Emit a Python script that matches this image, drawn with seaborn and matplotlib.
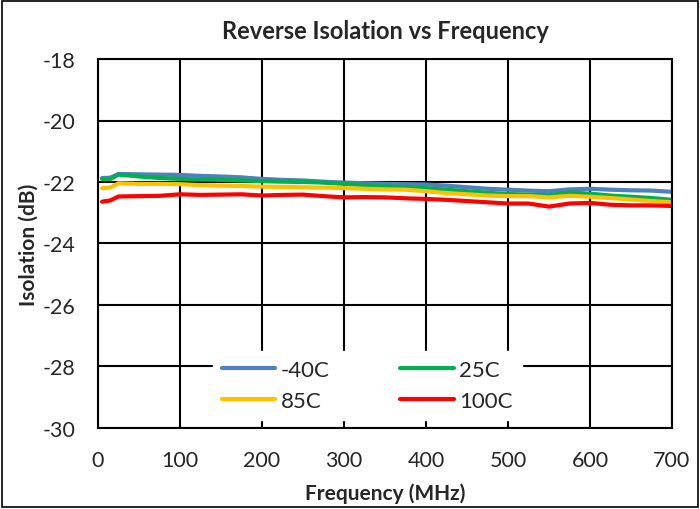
import seaborn as sns
import matplotlib.pyplot as plt
import pandas as pd

# frequency points (MHz) and isolation (dB) per temperature
freq = [5, 15, 25, 50, 75, 100, 125, 150, 175, 200, 225, 250, 275, 300, 325, 350,
        375, 400, 425, 450, 475, 500, 525, 550, 575, 600, 625, 650, 675, 700]
iso_m40 = [-21.87, -21.86, -21.74, -21.75, -21.76, -21.77, -21.80, -21.82, -21.85, -21.90,
           -21.93, -21.95, -21.99, -22.02, -22.04, -22.06, -22.07, -22.08, -22.12, -22.17,
           -22.22, -22.25, -22.28, -22.30, -22.24, -22.22, -22.25, -22.27, -22.28, -22.32]
iso_25 = [-21.90, -21.90, -21.76, -21.82, -21.87, -21.90, -21.92, -21.93, -21.95, -21.97,
          -21.99, -22.00, -22.02, -22.06, -22.10, -22.14, -22.16, -22.20, -22.25, -22.30,
          -22.35, -22.39, -22.41, -22.43, -22.34, -22.38, -22.44, -22.48, -22.52, -22.58]
iso_85 = [-22.20, -22.18, -22.04, -22.06, -22.06, -22.07, -22.10, -22.12, -22.13, -22.15,
          -22.16, -22.17, -22.18, -22.20, -22.22, -22.24, -22.25, -22.30, -22.36, -22.40,
          -22.44, -22.46, -22.46, -22.50, -22.45, -22.48, -22.52, -22.57, -22.62, -22.66]
iso_100 = [-22.64, -22.60, -22.47, -22.46, -22.45, -22.40, -22.42, -22.41, -22.40, -22.44,
           -22.42, -22.41, -22.46, -22.50, -22.49, -22.50, -22.53, -22.55, -22.58, -22.62,
           -22.66, -22.70, -22.70, -22.80, -22.70, -22.68, -22.74, -22.76, -22.76, -22.78]

series = {"-40C": iso_m40, "25C": iso_25, "85C": iso_85, "100C": iso_100}
colors = ["#4f81bd", "#00b050", "#ffc000", "#ff0000"]

df = pd.concat(
    [pd.DataFrame({"freq": freq, "iso": v, "temp": k}) for k, v in series.items()],
    ignore_index=True,
)

sns.set_style("white")
plt.rcParams["font.family"] = ["Lato", "DejaVu Sans"]
plt.rcParams["axes.unicode_minus"] = False

fig = plt.figure(figsize=(7, 5.1), dpi=100)
ax = fig.add_axes([98 / 700, 81 / 510, 574 / 700, 369 / 510])

sns.lineplot(data=df, x="freq", y="iso", hue="temp", palette=colors,
             linewidth=3, ax=ax)

ax.set_xlim(0, 700)
ax.set_ylim(-30, -18)
ax.set_xticks(range(0, 701, 100))
ax.set_yticks(range(-30, -17, 2))
ax.grid(True, color="black", linewidth=1.5)
ax.set_axisbelow(True)
for s in ax.spines.values():
    s.set_color("black")
    s.set_linewidth(1.5)
ax.tick_params(axis="both", labelsize=15.5, length=0)
ax.tick_params(axis="x", pad=16)
ax.tick_params(axis="y", pad=16)
ax.set_xlabel("Frequency (MHz)", fontsize=15, fontweight="bold", labelpad=9)
ax.set_ylabel("Isolation (dB)", fontsize=15, fontweight="bold", labelpad=3)
ax.set_title("Reverse Isolation vs Frequency", fontsize=17, fontweight="bold", pad=15)

# row-wise legend order: -40C, 25C / 85C, 100C
h, l = ax.get_legend_handles_labels()
order = [0, 2, 1, 3]
leg = ax.legend([h[i] for i in order], [l[i] for i in order], ncol=2, loc="center",
                bbox_to_anchor=(0.469, 0.116), frameon=True, fontsize=16,
                handlelength=2.4, columnspacing=3.2, borderpad=0.4,
                labelspacing=0.5, handletextpad=0.25)
leg.get_frame().set_edgecolor("white")
leg.get_frame().set_facecolor("white")
leg.get_frame().set_alpha(1)
leg.get_frame().set_boxstyle("square", pad=0)

# chart border
fig.patches.append(plt.Rectangle((0.003, 0.003), 0.994, 0.994, transform=fig.transFigure,
                                 fill=False, edgecolor="black", linewidth=1.2))

fig.savefig("out.png", dpi=100)
